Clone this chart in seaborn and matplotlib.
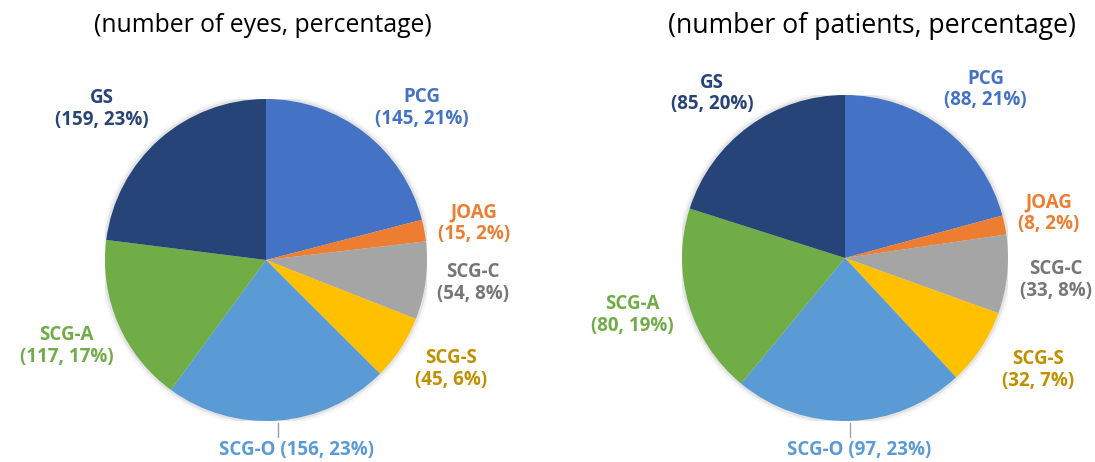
import numpy as np
import matplotlib
matplotlib.use('Agg')
import matplotlib.pyplot as plt
from matplotlib.patches import Circle
import seaborn as sns

# data
categories = ['PCG', 'JOAG', 'SCG-C', 'SCG-S', 'SCG-O', 'SCG-A', 'GS']
eyes = [145, 15, 54, 45, 156, 117, 159]
eyes_pct = [21, 2, 8, 6, 23, 17, 23]
patients = [88, 8, 33, 32, 97, 80, 85]
patients_pct = [21, 2, 8, 7, 23, 19, 20]
titles = ['(number of eyes, percentage)', '(number of patients, percentage)']

slice_colors = ['#4472C4', '#ED7D31', '#A5A5A5', '#FFC000', '#5B9BD5', '#70AD47', '#264478']
label_colors = ['#4472C4', '#ED7D31', '#767676', '#BF9000', '#5B9BD5', '#70AD47', '#264478']

sns.set_theme(style='white')
plt.rcParams['font.family'] = ['Open Sans', 'DejaVu Sans']

W, H = 1095, 462
fig = plt.figure(figsize=(W / 100, H / 100), dpi=100)


def draw_pie(values, pcts, title, cx, cy, r, tx, tsize, sco_dx, nudges):
    ax = fig.add_axes([(cx - r) / W, (H - cy - r) / H, 2 * r / W, 2 * r / H])
    # faint soft edge like the office-style shadow
    for rr, a in [(1.03, 0.04), (1.015, 0.07)]:
        ax.add_patch(Circle((0, 0), rr, color='black', alpha=a, lw=0, zorder=0))
    wedges, _ = ax.pie(values, colors=slice_colors, startangle=90, counterclock=False,
                       radius=1.0, wedgeprops=dict(linewidth=0))
    ax.set_xlim(-1, 1)
    ax.set_ylim(-1, 1)
    ax.set_aspect('equal')
    ax.axis('off')
    for w, name, v, pct, col in zip(wedges, categories, values, pcts, label_colors):
        mid = np.deg2rad((w.theta1 + w.theta2) / 2)
        if name == 'SCG-O':
            x0 = np.cos(mid)
            ax.plot([x0, x0], [-1.01, -1.10], color='#A0A0A0', lw=1, clip_on=False)
            ax.text(x0 + sco_dx, -1.18, f'{name} ({v}, {pct}%)', color=col, ha='center',
                    va='center', fontsize=13.5, fontweight='bold')
        else:
            d = 1.35
            ndx, ndy = nudges.get(name, (0, 0))
            ax.text(d * np.cos(mid) + ndx / r, d * np.sin(mid) - ndy / r,
                    f'{name}\n({v}, {pct}%)', color=col,
                    ha='center', va='center', fontsize=13.5, fontweight='bold',
                    linespacing=1.1)
    fig.text(tx / W, 1 - 26 / H, title, ha='center', va='center', fontsize=tsize, color='black')


draw_pie(eyes, eyes_pct, titles[0], 266, 260, 161, 263, 17.8, 0.11,
         {'PCG': (23, 20), 'GS': (-20, 12), 'SCG-C': (-9, -5), 'SCG-S': (3, -10), 'JOAG': (-6, 3)})
draw_pie(patients, patients_pct, titles[1], 845, 258, 163, 872, 19.2, 0.06,
         {'PCG': (7, 6), 'GS': (-3, 13), 'SCG-S': (9, -9), 'JOAG': (-12, 0), 'SCG-A': (-2, -5),
          'SCG-C': (-8, 0)})

fig.savefig('out.png', dpi=100)
